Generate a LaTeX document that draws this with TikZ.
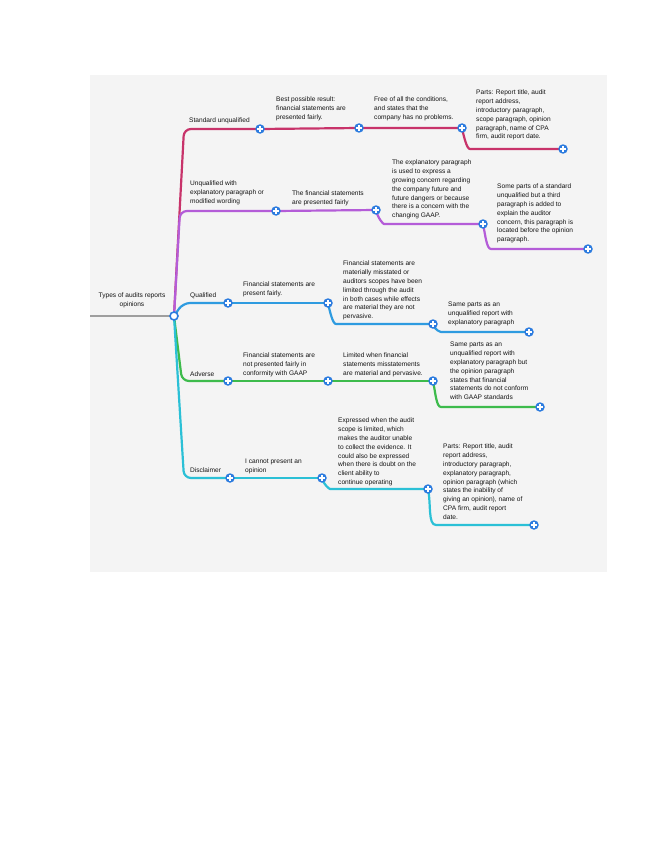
\documentclass[tikz,border=0pt]{standalone}
\usepackage{fontspec}
\setmainfont{Liberation Sans}
\usetikzlibrary{calc,backgrounds}
\definecolor{bgcol}{HTML}{F4F4F4}
\definecolor{cpink}{HTML}{C8336A}
\definecolor{cpurple}{HTML}{B45CD8}
\definecolor{cblue}{HTML}{2E9BE0}
\definecolor{cgreen}{HTML}{3DBB4C}
\definecolor{ccyan}{HTML}{2BC0D6}
\definecolor{nodeblue}{HTML}{2B7BDF}
\definecolor{rootgray}{HTML}{9E9E9E}
\tikzset{
  plusnode/.style={circle, fill=nodeblue, minimum size=9.5pt, inner sep=0pt,
    path picture={
      \draw[white, line width=1.3pt]
        ([xshift=-2.6pt]path picture bounding box.center) -- ([xshift=2.6pt]path picture bounding box.center)
        ([yshift=-2.6pt]path picture bounding box.center) -- ([yshift=2.6pt]path picture bounding box.center);
    }},
  rootnode/.style={circle, fill=white, draw=nodeblue, line width=1.6pt, minimum size=8pt, inner sep=0pt},
  txt/.style={font=\fontsize{6.6}{8.8}\selectfont, align=left, inner sep=0pt, anchor=north west, text=black!92},
  lbl/.style={font=\fontsize{6.6}{8.8}\selectfont, align=left, inner sep=0pt, anchor=base west, text=black!92},
  branch/.style={line width=2.2pt, rounded corners=7pt},
}
\newcommand{\sdrop}[3]{\draw[branch,#1] (#2.center) to[out=-78,in=180] ($(#2.center |- #3.center)+(15,0)$) -- (#3.center);}
\begin{document}
\begin{tikzpicture}[x=1pt,y=-1pt]
\useasboundingbox (0,0) rectangle (655,848);
% nodes
\node[rootnode] (root) at (174,316) {};
\coordinate (g0) at (90,316);
\node[txt, anchor=north, align=center] (roottxt) at (132,293) {Types of audits reports\\opinions};

\node[plusnode] (b1a) at (260,129) {};
\node[plusnode] (b1b) at (359,128) {};
\node[plusnode] (b1c) at (462,128) {};
\node[plusnode] (b1d) at (563,149) {};
\node[plusnode] (b2a) at (276,211) {};
\node[plusnode] (b2b) at (376,210) {};
\node[plusnode] (b2c) at (483,224) {};
\node[plusnode] (b2d) at (588,249) {};
\node[plusnode] (b3a) at (228,303) {};
\node[plusnode] (b3b) at (328,303) {};
\node[plusnode] (b3c) at (433,324) {};
\node[plusnode] (b3d) at (529,332) {};
\node[plusnode] (b4a) at (228,381) {};
\node[plusnode] (b4b) at (328,381) {};
\node[plusnode] (b4c) at (433,381) {};
\node[plusnode] (b4d) at (540,407) {};
\node[plusnode] (b5a) at (230,478) {};
\node[plusnode] (b5b) at (322,478) {};
\node[plusnode] (b5c) at (428,489) {};
\node[plusnode] (b5d) at (534,525) {};

% texts branch 1
\node[lbl] (l1) at (189,123) {Standard unqualified};
\node[txt] (t1a) at (276,97) {Best possible result:\\financial statements are\\presented fairly.};
\node[txt] (t1b) at (374,97) {Free of all the conditions,\\and states that the\\company has no problems.};
\node[txt] (t1c) at (476,90) {Parts: Report title, audit\\report address,\\introductory paragraph,\\scope paragraph, opinion\\paragraph, name of CPA\\firm, audit report date.};
% branch 2
\node[txt] (l2) at (190,181) {Unqualified with\\explanatory paragraph or\\modified wording};
\node[txt] (t2a) at (292,191) {The financial statements\\are presented fairly};
\node[txt] (t2b) at (392,160) {The explanatory paragraph\\is used to express a\\growing concern regarding\\the company future and\\future dangers or because\\there is a concern with the\\changing GAAP.};
\node[txt] (t2c) at (497,184) {Some parts of a standard\\unqualified but a third\\paragraph is added to\\explain the auditor\\concern, this paragraph is\\located before the opinion\\paragraph.};
% branch 3
\node[lbl] (l3) at (190,297) {Qualified};
\node[txt] (t3a) at (243,282) {Financial statements are\\present fairly.};
\node[txt] (t3b) at (343,261) {Financial statements are\\materially misstated or\\auditors scopes have been\\limited through the audit\\in both cases while effects\\are material they are not\\pervasive.};
\node[txt] (t3c) at (448,302) {Same parts as an\\unqualified report with\\explanatory paragraph};
% branch 4
\node[lbl] (l4) at (190,376) {Adverse};
\node[txt] (t4a) at (243,353) {Financial statements are\\not presented fairly in\\conformity with GAAP};
\node[txt] (t4b) at (343,353) {Limited when financial\\statements misstatements\\are material and pervasive.};
\node[txt] (t4c) at (450,342) {Same parts as an\\unqualified report with\\explanatory paragraph but\\the opinion paragraph\\states that financial\\statements do not conform\\with GAAP standards};
% branch 5
\node[lbl] (l5) at (190,472) {Disclaimer};
\node[txt] (t5a) at (245,459) {I cannot present an\\opinion};
\node[txt] (t5b) at (338,418) {Expressed when the audit\\scope is limited, which\\makes the auditor unable\\to collect the evidence. It\\could also be expressed\\when there is doubt on the\\client ability to\\continue operating};
\node[txt] (t5c) at (443,444) {Parts: Report title, audit\\report address,\\introductory paragraph,\\explanatory paragraph,\\opinion paragraph (which\\states the inability of\\giving an opinion), name of\\CPA firm, audit report\\date.};

\begin{scope}[on background layer]
\fill[bgcol] (90,75) rectangle (607,572);
\draw[rootgray, line width=1.5pt] (g0) -- (root.center);
% trunk
\draw[branch,cpink] (root.center) -- ($(root.center |- b1a.center)+(10,0)$) -- (b1a.center);
\draw[branch,cpurple] (root.center) -- ($(root.center |- b2a.center)+(6,0)$) -- (b2a.center);
\draw[branch,cblue] (root.center) -- ($(root.center |- b3a.center)+(9,0)$) -- (b3a.center);
\draw[branch,cgreen] (root.center) -- ($(root.center |- b4a.center)+(8,0)$) -- (b4a.center);
\draw[branch,ccyan] (root.center) -- ($(root.center |- b5a.center)+(10,0)$) -- (b5a.center);
% branch 1
\draw[branch,cpink] (b1a.center) -- (b1b.center) -- (b1c.center);
\sdrop{cpink}{b1c}{b1d}
% branch 2
\draw[branch,cpurple] (b2a.center) -- (b2b.center);
\sdrop{cpurple}{b2b}{b2c}
\sdrop{cpurple}{b2c}{b2d}
% branch 3
\draw[branch,cblue] (b3a.center) -- (b3b.center);
\sdrop{cblue}{b3b}{b3c}
\sdrop{cblue}{b3c}{b3d}
% branch 4
\draw[branch,cgreen] (b4a.center) -- (b4b.center) -- (b4c.center);
\sdrop{cgreen}{b4c}{b4d}
% branch 5
\draw[branch,ccyan] (b5a.center) -- (b5b.center);
\sdrop{ccyan}{b5b}{b5c}
\sdrop{ccyan}{b5c}{b5d}
\end{scope}
\end{tikzpicture}
\end{document}
